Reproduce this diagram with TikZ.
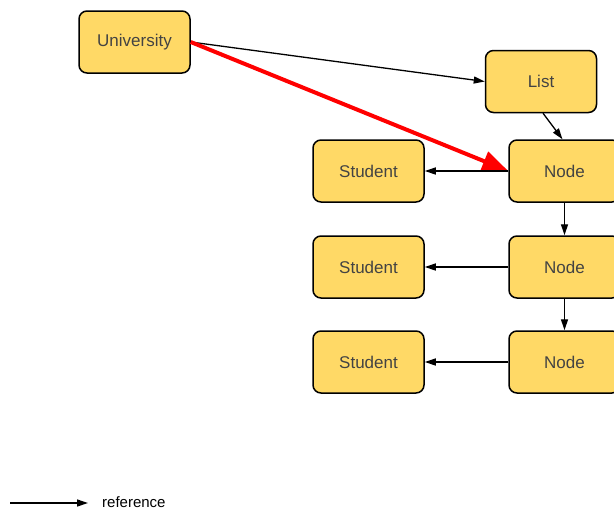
\documentclass[tikz,border=0pt]{standalone}
\usepackage{fontspec}
\setmainfont{Liberation Sans}
\usepackage{xcolor}
\usetikzlibrary{positioning,arrows.meta}
\definecolor{boxfill}{HTML}{FFD966}
\definecolor{boxtext}{HTML}{434343}

\begin{document}
\begin{tikzpicture}[
  x=1pt, y=1pt,
  node distance=32.5pt and 83.5pt,
  every node/.style={font=\fontsize{17}{20}\selectfont},
  box/.style={draw, line width=1.5pt, rounded corners=8pt, fill=boxfill, text=boxtext,
    minimum width=111pt, minimum height=62pt, inner sep=0pt},
  arrow/.style={-{Triangle[length=11pt, width=7pt]}, line width=1.3pt},
  bigarrow/.style={-{Triangle[length=26pt, width=20pt]}, line width=4pt, red}
]
\useasboundingbox (0,0) rectangle (614,-509);

\node[box] (univ) at (134.5,-42) {University};
\node[box] (list) at (541,-81.5) {List};

\node[box] (n1) at (564.5,-171) {Node};
\node[box] (n2) at (564.5,-267) {Node};
\node[box] (n3) at (564.5,-362) {Node};

\node[box, left=of n1] (s1) {Student};
\node[box, left=of n2] (s2) {Student};
\node[box, left=of n3] (s3) {Student};

\draw[arrow] (univ.east) -- (list.west);
\draw[bigarrow] (univ.east) -- (n1.west);
\draw[arrow] ([xshift=2pt]list.south) -- ([xshift=-2pt]n1.north);

\draw[arrow] (n1) -- (s1);
\draw[arrow] (n2) -- (s2);
\draw[arrow] (n3) -- (s3);
\draw[arrow] (n1) -- (n2);
\draw[arrow] (n2) -- (n3);

% legend
\coordinate (legstart) at (10,-503);
\coordinate (legend) at (88,-503);
\node[anchor=west, inner sep=0pt, font=\fontsize{15}{18}\selectfont] (legtxt) at (102,-502) {reference};
\draw[arrow] (legstart) -- (legend);
\end{tikzpicture}
\end{document}
